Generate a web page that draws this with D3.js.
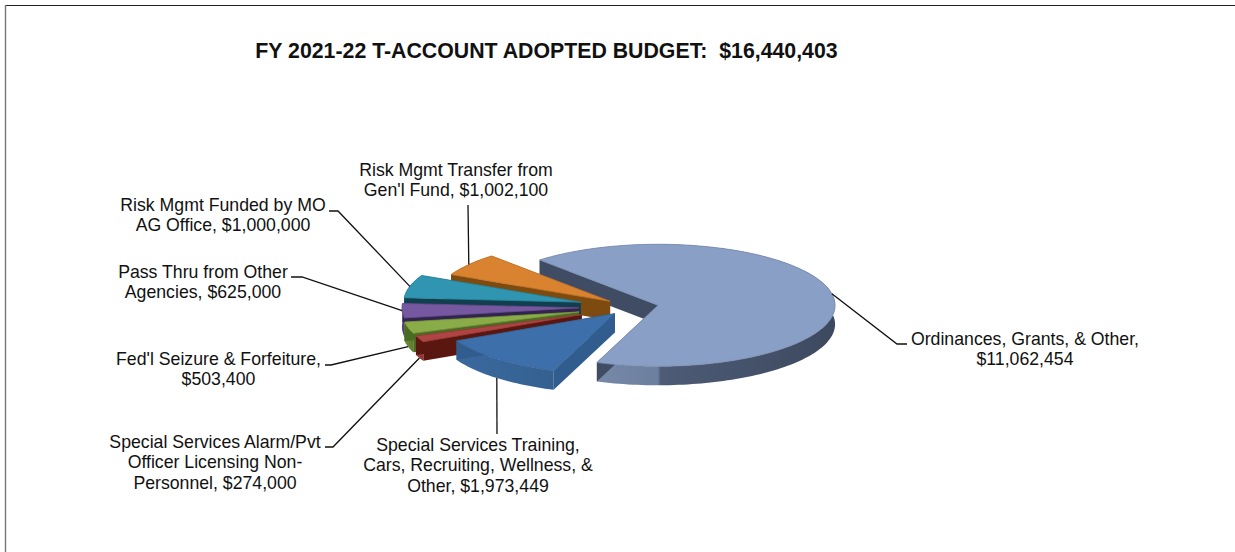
<!DOCTYPE html>
<html>
<head>
<meta charset="utf-8">
<script src="https://cdn.jsdelivr.net/npm/d3@7/dist/d3.min.js"></script>
<style>
  html, body { margin: 0; padding: 0; background: #fff; }
  svg { display: block; }
  text { font-family: "Liberation Sans", Arial, sans-serif; fill: #111; }
</style>
</head>
<body>
<svg id="chart" width="1235" height="552"></svg>
<script>
// Budget categories, in clockwise order around the pie
const chartTitle = "FY 2021-22 T-ACCOUNT ADOPTED BUDGET:  $16,440,403";
const categories = [
  "Ordinances, Grants, & Other",
  "Special Services Training, Cars, Recruiting, Wellness, & Other",
  "Special Services Alarm/Pvt Officer Licensing Non-Personnel",
  "Fed'l Seizure & Forfeiture",
  "Pass Thru from Other Agencies",
  "Risk Mgmt Funded by MO AG Office",
  "Risk Mgmt Transfer from Gen'l Fund"
];
const amounts = [11062454, 1973449, 274000, 503400, 625000, 1000000, 1002100];
const labelLines = [
  ["Ordinances, Grants, & Other,", "$11,062,454"],
  ["Special Services Training,", "Cars, Recruiting, Wellness, &", "Other, $1,973,449"],
  ["Special Services Alarm/Pvt", "Officer Licensing Non-", "Personnel, $274,000"],
  ["Fed'l Seizure & Forfeiture,", "$503,400"],
  ["Pass Thru from Other", "Agencies, $625,000"],
  ["Risk Mgmt Funded by MO", "AG Office, $1,000,000"],
  ["Risk Mgmt Transfer from", "Gen'l Fund, $1,002,100"]
];

// Slice pull-out, as a share of the radius
const explosion = [0.15, 0.145, 0.31, 0.31, 0.30, 0.30, 0.155];

// Slice styling
const topColors  = ["#8a9fc6", "#3d6fab", "#ae4443", "#89ab48", "#7558a0", "#2f95b0", "#d9822f"];
const wallColors = ["#3f4c64", "#315c8e", "#5a1710", "#4c6b22", "#32234f", "#123f50", "#7d4a10"];
const rimStops = [
  ["#7f92b3", "#6d7f9e", "#4d5b76", "#3d495f"],
  ["#3a689e", "#386699", "#386699", "#33608f"],
  ["#a53f3e", "#9c3b3a", "#9c3b3a", "#8f3433"],
  ["#6f8f38", "#668532", "#668532", "#5e7b2c"],
  ["#5d4585", "#56407c", "#56407c", "#4f3a72"],
  ["#24788f", "#226f85", "#226f85", "#1f687d"],
  ["#b56a22", "#ad651f", "#ad651f", "#a05d1c"]
];

// Label placement: block centre, first baseline, leader elbow and leader end
const labelCentreX  = [1025, 478, 215, 218.5, 203, 223, 456];
const labelBaseline = [345, 451, 448, 365, 278, 211, 176];
const lineGap = 20.4;
const elbowX = [897, 497, 333, 331, 302, 338, 468];
const elbowY = [344, 434, 447, 365, 277, 211, 205];
const stubX  = [907, 497, 325, 325, 291, 329, 468];

const svg = d3.select("#chart");
const defs = svg.append("defs");

// Page frame: only the top and left rules are present
svg.append("line").attr("x1", 5).attr("x2", 1235).attr("y1", 5.5).attr("y2", 5.5)
  .attr("stroke", "#222").attr("stroke-width", 1.2);
svg.append("line").attr("x1", 5.5).attr("x2", 5.5).attr("y1", 5).attr("y2", 552)
  .attr("stroke", "#777").attr("stroke-width", 1.4);

svg.append("text").attr("x", 546.5).attr("y", 58).attr("text-anchor", "middle")
  .attr("font-size", 21.3).attr("font-weight", "bold").attr("xml:space", "preserve")
  .style("white-space", "pre").text(chartTitle);

// Tilted pie geometry
const pieCentre = { x: 632, y: 307 };
const depth = 19;
const sx = d3.scaleLinear().domain([-1, 1]).range([pieCentre.x - 177, pieCentre.x + 177]);
const sy = d3.scaleLinear().domain([-1, 1]).range([pieCentre.y - 61, pieCentre.y + 61]);
const project = (a, r = 1) => [sx(r * Math.sin(a)), sy(-r * Math.cos(a))];

const rad = d => d * Math.PI / 180;
const arcs = d3.pie().sort(null).startAngle(rad(-42)).endAngle(rad(318))(amounts);

const line = d3.line().curve(d3.curveLinear);
const slices = arcs.map((arc, i) => {
  const mid = (arc.startAngle + arc.endAngle) / 2;
  const [mx, my] = project(mid, explosion[i]);
  const dx = mx - pieCentre.x, dy = my - pieCentre.y;
  const n = Math.max(4, Math.ceil((arc.endAngle - arc.startAngle) / rad(1.5)));
  const rim = d3.range(n + 1)
    .map(k => arc.startAngle + (arc.endAngle - arc.startAngle) * k / n)
    .map(a => { const p = project(a); return [p[0] + dx, p[1] + dy]; });
  const apex = [pieCentre.x + dx, pieCentre.y + dy];
  return { i, mid, dx, dy, rim, apex };
});

const drop = p => [p[0], p[1] + depth];

// Rim shading runs left to right across each slice
slices.forEach(s => {
  const xs = s.rim.map(p => p[0]);
  const grad = defs.append("linearGradient").attr("id", "rim" + s.i)
    .attr("gradientUnits", "userSpaceOnUse")
    .attr("x1", d3.min(xs)).attr("x2", d3.max(xs)).attr("y1", 0).attr("y2", 0);
  [[0, 0], [0.4, 1], [0.41, 2], [1, 3]].forEach(([o, c]) =>
    grad.append("stop").attr("offset", o).attr("stop-color", rimStops[s.i][c]));
});

// Painted back to front: largest slice, then round from the top-left to the bottom
const paintOrder = [0, 6, 5, 4, 3, 2, 1];
const g = svg.append("g");
paintOrder.forEach(i => {
  const s = slices[i];
  const first = s.rim[0], last = s.rim[s.rim.length - 1];
  const group = g.append("g");
  group.append("path")
    .attr("d", line([...s.rim, ...s.rim.map(drop).reverse()]) + "Z")
    .attr("fill", `url(#rim${i})`);
  group.append("path")
    .attr("d", line([s.apex, first, drop(first), drop(s.apex)]) + "Z")
    .attr("fill", wallColors[i]);
  group.append("path")
    .attr("d", line([s.apex, last, drop(last), drop(s.apex)]) + "Z")
    .attr("fill", wallColors[i]);
  group.append("path")
    .attr("d", line([s.apex, ...s.rim]) + "Z")
    .attr("fill", topColors[i])
    .attr("stroke", d3.color(topColors[i]).darker(0.35))
    .attr("stroke-width", 0.8);
});

// Leader lines start on the outer edge at each slice's mid-angle
const leaders = svg.append("g").attr("fill", "none").attr("stroke", "#111").attr("stroke-width", 1.3);
slices.forEach(s => {
  const p = project(s.mid);
  const start = [p[0] + s.dx, p[1] + s.dy + (Math.cos(s.mid) < -0.2 ? depth : 0)];
  leaders.append("path").attr("d", line([start, [elbowX[s.i], elbowY[s.i]], [stubX[s.i], elbowY[s.i]]]));
});

// Category labels
labelLines.forEach((lines, i) => {
  const t = svg.append("text").attr("text-anchor", "middle").attr("font-size", 17.7);
  lines.forEach((str, k) => {
    t.append("tspan").attr("x", labelCentreX[i]).attr("y", labelBaseline[i] + k * lineGap).text(str);
  });
});
</script>
</body>
</html>
